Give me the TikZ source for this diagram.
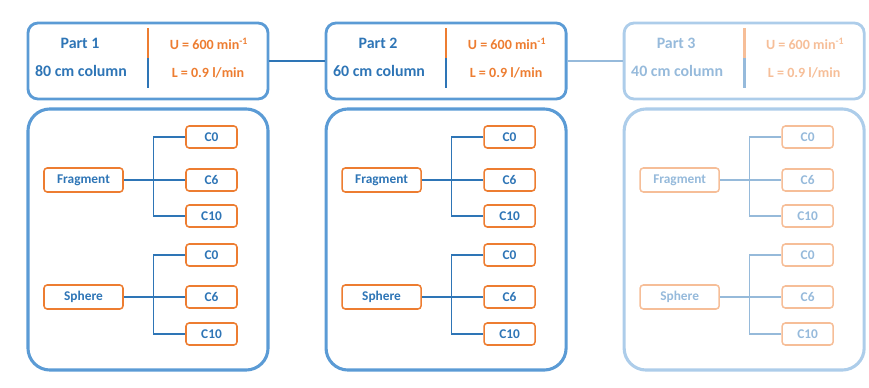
\documentclass[tikz,border=0pt]{standalone}
\usepackage{fontspec}
\setmainfont{Carlito}
\definecolor{frameblue}{HTML}{5B9BD5}
\definecolor{inkblue}{HTML}{2E75B6}
\definecolor{accent}{HTML}{ED7D31}
\tikzset{
  partbox/.style={draw=pframe, line width=2pt, rounded corners=0.25cm, minimum width=6cm, minimum height=1.9cm},
  groupbox/.style={draw=pframe, line width=2.2pt, rounded corners=0.55cm, minimum width=6cm, minimum height=6.525cm},
  shapebox/.style={draw=pacc, line width=1.1pt, rounded corners=0.08cm, text=pink, inner sep=0pt,
    minimum width=1.975cm, minimum height=0.6cm, font=\fontsize{9.5}{11}\selectfont\bfseries},
  levelbox/.style={shapebox, minimum width=1.275cm, minimum height=0.55cm},
  wire/.style={draw=pink, line width=1pt},
  title/.style={text=pink, font=\fontsize{11.3}{13}\selectfont\bfseries},
  setting/.style={text=pacc, font=\fontsize{10}{12}\selectfont\bfseries}
}
\begin{document}
\begin{tikzpicture}[x=0.025cm, y=-0.025cm]
\useasboundingbox (0,0) rectangle (869,388);

% One column per part
\foreach \i/\len/\fade in {1/80/100, 2/60/100, 3/40/50} {
  \begin{scope}[xshift={(\i-1)*7.45cm}]
  \colorlet{pframe}{frameblue!\fade!white}
  \colorlet{pink}{inkblue!\fade!white}
  \colorlet{pacc}{accent!\fade!white}

  % Header box
  \node[partbox] (top\i) at (148,61) {};
  \node[title] (name\i) at (80,43) {Part \i};
  \node[title] (col\i) at (81,71) {\len\ cm column};
  \node[setting] (rpm\i) at (209,44) {U = 600 min\textsuperscript{-1}};
  \node[setting] (flow\i) at (208,73) {L = 0.9 l/min};
  \draw[pacc, line width=2pt] (148,28) -- (148,58);
  \draw[pink, line width=2pt] (148,58) -- (148,88);

  % Group box
  \node[groupbox] (grp\i) at (148,239.5) {};

  % Fragment branch
  \node[shapebox] (frag\i) at (83.5,180) {Fragment};
  \node[levelbox] (fa\i) at (211.5,137) {C0};
  \node[levelbox] (fb\i) at (211.5,180) {C6};
  \node[levelbox] (fc\i) at (211.5,216) {C10};
  \draw[wire] (frag\i.east) -- (fb\i.west);
  \draw[wire] (fa\i.west) -- ++(-32,0) |- (fc\i.west);

  % Sphere branch
  \node[shapebox] (sph\i) at (83.5,297) {Sphere};
  \node[levelbox] (sa\i) at (211.5,255) {C0};
  \node[levelbox] (sb\i) at (211.5,297) {C6};
  \node[levelbox] (sc\i) at (211.5,334) {C10};
  \draw[wire] (sph\i.east) -- (sb\i.west);
  \draw[wire] (sa\i.west) -- ++(-32,0) |- (sc\i.west);
  \end{scope}
}

% Links between the headers
\draw[inkblue, line width=2pt] (top1) -- (top2);
\draw[inkblue!50!white, line width=2pt] (top2) -- (top3);
\end{tikzpicture}
\end{document}
